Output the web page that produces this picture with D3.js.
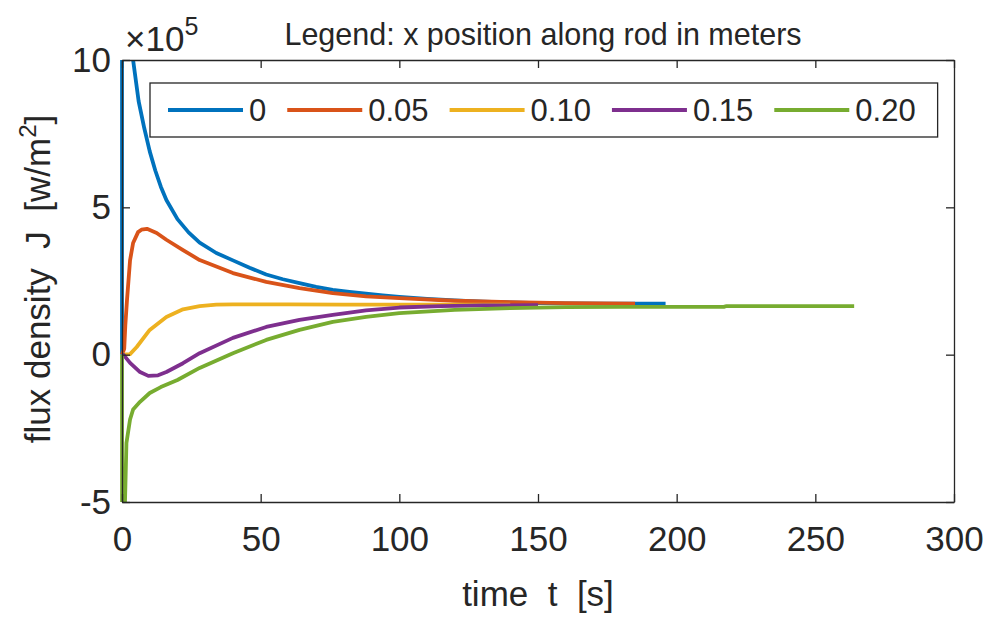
<!DOCTYPE html>
<html><head><meta charset="utf-8">
<script src="https://cdn.jsdelivr.net/npm/d3@7"></script>
<style>body{margin:0;background:#fff}svg{display:block}text{font-family:"Liberation Sans",Arial,Helvetica,sans-serif;fill:#262626}</style>
</head><body><svg id="c" width="990" height="619"></svg>
<script>
// ---- data (flux density in units of 1e5 W/m^2) ----
const legendLabels = ["0", "0.05", "0.10", "0.15", "0.20"];
const seriesColors = ["#0072BD", "#D95319", "#EDB120", "#7E2F8E", "#77AC30"];
const xTicks = [0, 50, 100, 150, 200, 250, 300];
const yTicks = [-5, 0, 5, 10];

const t0   = [0, 0.02, 4, 6, 8, 10, 12, 14, 16, 20, 24, 28, 34, 40, 46, 52, 58, 64, 70, 76, 82, 88, 94, 100, 110, 120, 130, 140, 150, 160, 175, 196];
const J0   = [0, 40, 10, 8.6, 7.7, 6.9, 6.25, 5.7, 5.25, 4.6, 4.15, 3.8, 3.45, 3.2, 2.95, 2.72, 2.56, 2.43, 2.3, 2.2, 2.13, 2.07, 2.01, 1.96, 1.89, 1.84, 1.8, 1.77, 1.75, 1.74, 1.73, 1.73];

const t05  = [0, 0.8, 1.2, 1.8, 2.9, 4, 5.8, 7, 9, 12.5, 16, 22, 28, 40, 52, 64, 76, 88, 100, 120, 140, 160, 185];
const J05  = [0, 0.2, 1.0, 1.85, 3.2, 3.79, 4.16, 4.24, 4.27, 4.13, 3.9, 3.55, 3.21, 2.77, 2.47, 2.26, 2.09, 1.98, 1.92, 1.83, 1.78, 1.75, 1.73];

const t10  = [0, 2.9, 5.3, 10, 16, 22, 28, 34, 40, 60, 80, 100, 120, 140];
const J10  = [0, 0.02, 0.26, 0.84, 1.28, 1.54, 1.65, 1.7, 1.71, 1.71, 1.7, 1.7, 1.7, 1.7];

const t15  = [0, 0.5, 2.9, 6.5, 9.5, 13, 16, 22, 28, 40, 52, 64, 76, 88, 100, 115, 130, 150];
const J15  = [0, 0, -0.28, -0.59, -0.72, -0.7, -0.59, -0.29, 0.05, 0.57, 0.94, 1.18, 1.35, 1.5, 1.6, 1.65, 1.67, 1.68];

const t20  = [0, 0.02, 1.0, 1.6, 2.9, 4, 6.5, 10, 14, 20, 28, 40, 52, 64, 76, 88, 100, 120, 140, 160, 180, 217, 218, 264];
const J20  = [0, -5.3, -5.3, -3.0, -2.2, -1.86, -1.6, -1.3, -1.1, -0.86, -0.45, 0.05, 0.5, 0.84, 1.11, 1.28, 1.41, 1.52, 1.58, 1.61, 1.62, 1.62, 1.65, 1.65];

const seriesT = [t0, t05, t10, t15, t20];
const seriesJ = [J0, J05, J10, J15, J20];

// ---- layout ----
const L = 122, R = 954, T = 60, B = 502;
const svg = d3.select("#c");
const x = d3.scaleLinear().domain([0, 300]).range([L, R]);
const y = d3.scaleLinear().domain([-5, 10]).range([B, T]);
const FS = 35;
const LW = 3.8;

svg.append("clipPath").attr("id", "clip").append("rect")
  .attr("x", L - 2).attr("y", T).attr("width", R - L + 2).attr("height", B - T);

// lines
const line = d3.line().x(d => x(d[0])).y(d => y(d[1]));
const g = svg.append("g").attr("clip-path", "url(#clip)");
seriesT.forEach((ts, i) => {
  const pts = ts.map((t, k) => [t, seriesJ[i][k]]);
  g.append("path").datum(pts).attr("d", line)
    .attr("fill", "none").attr("stroke", seriesColors[i])
    .attr("stroke-width", LW).attr("stroke-linejoin", "round");
});

// axes
function styleAxis(sel, labels) {
  sel.selectAll("path.domain").attr("stroke", "#262626").attr("stroke-width", 1.3);
  sel.selectAll(".tick line").attr("stroke", "#262626").attr("stroke-width", 1.3);
  sel.selectAll(".tick text").attr("font-size", FS).style("fill", "#262626")
    .attr("font-family", '"Liberation Sans",Arial,Helvetica,sans-serif');
  if (!labels) sel.selectAll(".tick text").remove();
}
const fmt = d => String(d);
svg.append("g").attr("transform", `translate(0,${B})`)
  .call(d3.axisBottom(x).tickValues(xTicks).tickSize(-8).tickSizeOuter(0).tickPadding(24).tickFormat(fmt))
  .call(s => styleAxis(s, true));
svg.append("g").attr("transform", `translate(0,${T})`)
  .call(d3.axisTop(x).tickValues(xTicks).tickSize(-8).tickSizeOuter(0))
  .call(s => styleAxis(s, false));
svg.append("g").attr("transform", `translate(${L},0)`)
  .call(d3.axisLeft(y).tickValues(yTicks).tickSize(-8).tickSizeOuter(0).tickPadding(11).tickFormat(fmt))
  .call(s => styleAxis(s, true));
svg.append("g").attr("transform", `translate(${R},0)`)
  .call(d3.axisRight(y).tickValues(yTicks).tickSize(-8).tickSizeOuter(0))
  .call(s => styleAxis(s, false));

// exponent
const ex = svg.append("text").attr("x", 125).attr("y", 51).attr("font-size", 35);
ex.append("tspan").text("\u00d710");
ex.append("tspan").attr("font-size", 25).attr("dy", -16).text("5");

// title
svg.append("text").attr("x", 543).attr("y", 45).attr("text-anchor", "middle")
  .attr("font-size", 30.5).text("Legend: x position along rod in meters");

// x label
svg.append("text").attr("x", (L + R) / 2).attr("y", 606).attr("text-anchor", "middle")
  .attr("font-size", FS).style("white-space", "pre").text("time  t  [s]");

// y label
const yl = svg.append("text").attr("transform", `translate(50,${(T + B) / 2 - 2}) rotate(-90)`)
  .attr("text-anchor", "middle").attr("font-size", FS).style("white-space", "pre");
yl.append("tspan").text("flux density  J  [w/m");
yl.append("tspan").attr("font-size", 24).attr("dy", -14).text("2");
yl.append("tspan").attr("dy", 14).text("]");

// legend
const lg = svg.append("g");
const box = lg.append("rect").attr("x", 150).attr("y", 83).attr("height", 54)
  .attr("fill", "#fff").attr("stroke", "#262626").attr("stroke-width", 1.3);
let cx = 168;
legendLabels.forEach((lab, i) => {
  lg.append("line").attr("x1", cx).attr("x2", cx + 75).attr("y1", 110).attr("y2", 110)
    .attr("stroke", seriesColors[i]).attr("stroke-width", LW);
  const tx = lg.append("text").attr("x", cx + 81).attr("y", 121).attr("font-size", 31).text(lab);
  cx = cx + 81 + tx.node().getComputedTextLength() + (i < legendLabels.length - 1 ? 21 : 20);
});
box.attr("width", cx - 150 + 2);
</script></body></html>
